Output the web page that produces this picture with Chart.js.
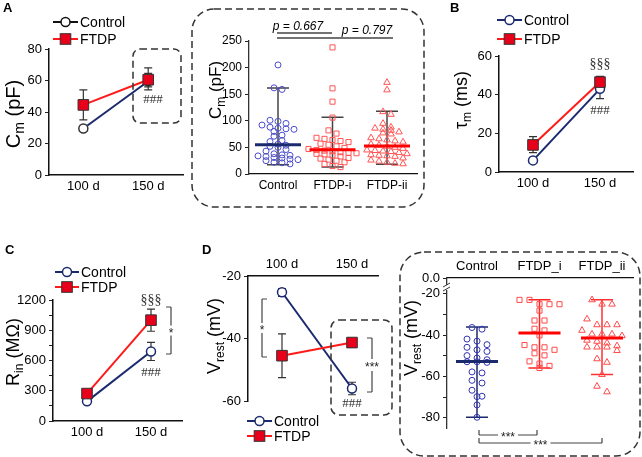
<!DOCTYPE html>
<html><head><meta charset="utf-8">
<script src="https://cdn.jsdelivr.net/npm/chart.js@4.4.1/dist/chart.umd.min.js"></script>
<style>
html,body{margin:0;padding:0;background:#fff;}
#wrap{position:relative;width:642px;height:457px;overflow:hidden;background:#fff;}
canvas{position:absolute;}
</style></head>
<body><div id="wrap">
<canvas id="cA"></canvas><canvas id="cAd"></canvas><canvas id="cB"></canvas>
<canvas id="cC"></canvas><canvas id="cD"></canvas><canvas id="cDd"></canvas>
</div>
<script>
// ---------------- DATA ----------------
const dayLabels = ['100 d', '150 d'];
// A: membrane capacitance (pF)
const cmCtrl = [29.5, 59.5], cmCtrlLo = [28, 54], cmCtrlHi = [31, 64.5];
const cmFtdp = [44.5, 60.5], cmFtdpLo = [35, 56], cmFtdpHi = [54, 68];
// B: membrane time constant (ms)
const tauCtrl = [6, 43], tauCtrlLo = [5, 38], tauCtrlHi = [7, 47];
const tauFtdp = [14, 46.5], tauFtdpLo = [10, 44], tauFtdpHi = [18.3, 49.5];
// C: input resistance (MOhm)
const rinCtrl = [195, 690], rinCtrlLo = [175, 600], rinCtrlHi = [215, 780];
const rinFtdp = [272, 1000], rinFtdpLo = [240, 890], rinFtdpHi = [300, 1110];
// D: resting potential (mV)
const vCtrl = [-25.2, -56], vCtrlLo = [-26.5, -58], vCtrlHi = [-24, -54];
const vFtdp = [-45.5, -41.3], vFtdpLo = [-52.5, -42.8], vFtdpHi = [-38.5, -40];

// A inset: Cm per cell at 150 d
const cmGroups = ['Control', 'FTDP-i', 'FTDP-ii'];
const cmCellsCtrl = [205, 162, 159, 101, 99, 95, 92, 88, 86, 85, 84, 80, 73, 71, 63, 61, 56, 54, 52, 50, 46, 43, 38, 36, 35, 34, 33, 31, 30, 28, 27, 25, 22, 21, 19];
const cmCellsFi = [238, 161, 136, 106, 82, 76, 68, 66, 64, 62, 60, 57, 55, 52, 49, 47, 45, 44, 43, 41, 40, 39, 38, 37, 35, 33, 30, 29, 27, 25, 22, 19, 15, 13];
const cmCellsFii = [172, 158, 117, 112, 95, 88, 86, 84, 82, 79, 77, 75, 68, 66, 64, 62, 60, 56, 54, 52, 50, 48, 45, 44, 43, 42, 40, 38, 36, 35, 34, 33, 30, 26, 24, 22, 20, 19];
const cmMid = [55, 45.7, 52.5], cmLow = [17.5, 13, 18.2], cmHigh = [161.7, 106.5, 117.8];

// D inset: Vrest per cell
const vGroups = ['Control', 'FTDP_i', 'FTDP_ii'];
const vCellsCtrl = [-36.3, -37.1, -41.9, -42.9, -44.6, -45.9, -47.1, -47.9, -49.9, -51.1, -51.9, -52.9, -52.9, -53.2, -57.8, -58.3, -61.9, -63.2, -66.7, -69.6, -69.8, -73.8, -79.8];
const vCellsFi = [-22.9, -22.9, -25, -25, -25, -28.1, -32.9, -32.9, -36.9, -37.7, -40.1, -44.8, -45.9, -45.9, -47.1, -48.8, -49.8, -52.7, -53.8, -54.9, -55.9];
const vCellsFii = [-22.9, -25, -25, -32.2, -35, -35, -35, -37.7, -39.5, -39.5, -39.5, -40.3, -42.5, -43, -43.8, -45.2, -45.8, -45.8, -45.8, -47.5, -51.5, -53.2, -59.1, -64.8, -67.5];
const vMid = [-52.8, -39.0, -41.4], vLow = [-79.8, -55.9, -59.1], vHigh = [-36.1, -22.9, -22.9];

// ---------------- STYLE / HELPERS ----------------
const FAM = '"Liberation Sans", Arial, sans-serif';
const NAVY = '#1b2a6e', RED = '#ff1a1a', REDF = '#e8001a';
function F(size, w){ return (w||'') + ' ' + size + 'px ' + FAM; }
function txt(ctx, s, x, y, font, color, align, base){
  ctx.save(); ctx.font = font; ctx.fillStyle = color || '#000';
  ctx.textAlign = align || 'center'; ctx.textBaseline = base || 'middle';
  ctx.fillText(s, x, y); ctx.restore();
}
function rotTitle(ctx, x, y, parts, size){
  ctx.save(); ctx.translate(x, y); ctx.rotate(-Math.PI/2);
  const ss = Math.round(size*0.68); let total = 0;
  parts.forEach(p => { ctx.font = F(p[1] ? ss : size); total += ctx.measureText(p[0]).width; });
  let cx = -total/2; ctx.fillStyle = '#000'; ctx.textBaseline = 'middle'; ctx.textAlign = 'left';
  parts.forEach(p => { ctx.font = F(p[1] ? ss : size); ctx.fillText(p[0], cx, p[1] ? size*0.32 : 0); cx += ctx.measureText(p[0]).width; });
  ctx.restore();
}
function rr(ctx, x, y, w, h, r){
  ctx.beginPath(); ctx.moveTo(x+r, y); ctx.lineTo(x+w-r, y); ctx.arcTo(x+w, y, x+w, y+r, r);
  ctx.lineTo(x+w, y+h-r); ctx.arcTo(x+w, y+h, x+w-r, y+h, r); ctx.lineTo(x+r, y+h);
  ctx.arcTo(x, y+h, x, y+h-r, r); ctx.lineTo(x, y+r); ctx.arcTo(x, y, x+r, y, r); ctx.closePath();
}
function dashBox(ctx, x1, y1, x2, y2, r){
  ctx.save(); ctx.setLineDash([7, 4]); ctx.lineWidth = 1.5; ctx.strokeStyle = '#333';
  rr(ctx, x1, y1, x2-x1, y2-y1, r); ctx.stroke(); ctx.restore();
}
function seg(ctx, pts, color, w){
  ctx.save(); ctx.strokeStyle = color; ctx.lineWidth = w; ctx.beginPath();
  for (let i = 0; i < pts.length; i += 4){ ctx.moveTo(pts[i], pts[i+1]); ctx.lineTo(pts[i+2], pts[i+3]); }
  ctx.stroke(); ctx.restore();
}
function legendItem(ctx, x1, x2, y, kind, lineColor, label){
  seg(ctx, [x1, y, x2, y], lineColor, 2);
  const cx = (x1+x2)/2;
  ctx.save();
  if (kind === 'c'){ ctx.beginPath(); ctx.arc(cx, y, 4.5, 0, Math.PI*2); ctx.fillStyle = '#fff'; ctx.fill(); ctx.lineWidth = 1.5; ctx.strokeStyle = lineColor; ctx.stroke(); }
  else { ctx.fillStyle = REDF; ctx.fillRect(cx-5.3, y-5.3, 10.6, 10.6); ctx.lineWidth = 1; ctx.strokeStyle = '#333'; ctx.strokeRect(cx-5.3, y-5.3, 10.6, 10.6); }
  ctx.restore();
  txt(ctx, label, x2+2, y+1, F(14), '#000', 'left', 'middle');
}
function vBracket(ctx, x, y1, y2, dir, label, gap){
  const ym = (y1+y2)/2;
  seg(ctx, [x, y1, x, ym-gap, x, ym+gap, x, y2, x, y1, x+dir*5, y1, x, y2, x+dir*5, y2], '#444', 1.2);
  txt(ctx, label, x, ym+3, F(12), '#222');
}
function hBracket(ctx, x1, x2, y, label, gap){
  const xm = (x1+x2)/2;
  seg(ctx, [x1, y, xm-gap, y, xm+gap, y, x2, y, x1, y, x1, y-5, x2, y, x2, y-5], '#444', 1.2);
  txt(ctx, label, xm, y+3, F(12), '#222');
}

const errPlugin = { id: 'err', beforeDatasetsDraw(chart){
  const ctx = chart.ctx, xs = chart.scales.x, ys = chart.scales.y;
  chart.data.datasets.forEach(ds => {
    if (!ds.errLo) return;
    ds.data.forEach((p, i) => {
      const x = xs.getPixelForValue(p.x), a = ys.getPixelForValue(ds.errLo[i]), b = ys.getPixelForValue(ds.errHi[i]);
      seg(ctx, [x, a, x, b, x-4, a, x+4, a, x-4, b, x+4, b], '#333', 1.2);
    });
  });
}};

function swarmOffsets(values, rowPx, stepPx, pxPerY, pxPerX){
  const order = values.map((v, i) => i).sort((a, b) => values[b]-values[a]);
  const off = new Array(values.length).fill(0);
  let row = [], start = null;
  const flush = () => { const n = row.length; row.forEach((idx, k) => { off[idx] = (k-(n-1)/2)*stepPx/pxPerX; }); row = []; };
  order.forEach(i => { if (start === null || (start-values[i])*pxPerY > rowPx){ flush(); start = values[i]; } row.push(i); });
  flush(); return off;
}

function setup(id, L, T, W, H){
  const c = document.getElementById(id);
  c.width = W; c.height = H; c.style.left = L+'px'; c.style.top = T+'px'; c.style.width = W+'px'; c.style.height = H+'px';
  return c;
}
function pad(g){
  if (g.xPos === 'top') return {left: g.x1-g.L-g.yW, right: g.L+g.W-g.x2, top: g.y1-g.T-g.xH, bottom: g.T+g.H-g.y2};
  return {left: g.x1-g.L-g.yW, right: g.L+g.W-g.x2, top: g.y1-g.T, bottom: g.T+g.H-g.y2-g.xH};
}
function axisCommon(extra){
  return Object.assign({
    grid: {display: true, drawOnChartArea: false, drawTicks: true, tickLength: 4, color: '#222', lineWidth: 1},
    border: {display: true, color: '#111', width: 1.5}
  }, extra);
}

// ---------------- LINE PANELS ----------------
function linePanel(id, g){
  const c = setup(id, g.L, g.T, g.W, g.H);
  const pxPerX = g.pxPerX;
  const xmin = -(g.p0-g.x1)/pxPerX, xmax = 1+(g.x2-g.p0-pxPerX)/pxPerX;
  return new Chart(c, {
    type: 'line',
    data: { datasets: [
      { label: 'FTDP', data: g.ftdp.map((v, i) => ({x: i, y: v})), errLo: g.ftdpLo, errHi: g.ftdpHi, order: 0,
        borderColor: RED, borderWidth: 2, pointStyle: 'rect', pointRadius: 7.5, pointBackgroundColor: REDF, pointBorderColor: '#333', pointBorderWidth: 1 },
      { label: 'Control', data: g.ctrl.map((v, i) => ({x: i, y: v})), errLo: g.ctrlLo, errHi: g.ctrlHi, order: 1,
        borderColor: NAVY, borderWidth: 2, pointStyle: 'circle', pointRadius: 4.5, pointBackgroundColor: '#fff', pointBorderColor: g.ctrlPt || NAVY, pointBorderWidth: 1.5 }
    ]},
    options: {
      responsive: false, animation: false, devicePixelRatio: 1, layout: {padding: pad(g)},
      plugins: {legend: {display: false}, tooltip: {enabled: false}},
      scales: {
        x: axisCommon({ type: 'linear', position: g.xPos || 'bottom', min: xmin, max: xmax,
          afterBuildTicks: s => { s.ticks = [{value: 0}, {value: 1}]; },
          afterFit: s => { s.height = g.xH; },
          grid: {display: true, drawOnChartArea: false, drawTicks: false},
          ticks: {autoSkip: false, maxRotation: 0, padding: 4, color: '#000', font: {family: FAM, size: 13}, callback: v => dayLabels[v]} }),
        y: axisCommon({ min: g.ymin, max: g.ymax,
          afterBuildTicks: s => { const t = []; for (let v = g.ymin; v <= g.ymax+1e-9; v += g.step) t.push({value: v}); s.ticks = t; },
          afterFit: s => { s.width = g.yW; },
          ticks: {autoSkip: false, padding: 3, color: '#000', font: {family: FAM, size: 13},
            callback: v => (Math.abs(v % g.labelEvery) < 1e-9 ? String(v) : '')} })
      }
    },
    plugins: [errPlugin, { id: 'deco', afterDraw(chart){ g.deco(chart.ctx, (x, y) => [x-g.L, y-g.T], chart); } }]
  });
}

// A
linePanel('cA', { L: 0, T: 0, W: 192, H: 210, x1: 49, x2: 190, y1: 49, y2: 175, yW: 40, xH: 22, p0: 85, pxPerX: 68,
  ymin: 0, ymax: 80, step: 20, labelEvery: 20,
  ctrl: cmCtrl, ctrlLo: cmCtrlLo, ctrlHi: cmCtrlHi, ftdp: cmFtdp, ftdpLo: cmFtdpLo, ftdpHi: cmFtdpHi, ctrlPt: '#333',
  deco(ctx, P){
    txt(ctx, 'A', 3, 8, F(13, 'bold'), '#000', 'left');
    legendItem(ctx, 53, 78, 22, 'c', '#111', 'Control');
    legendItem(ctx, 53, 78, 39, 's', RED, 'FTDP');
    rotTitle(ctx, 14, 114, [['C'], ['m', 1], [' (pF)']], 20);
    dashBox(ctx, 133, 49, 181, 123, 7);
    txt(ctx, '###', 153, 100, '13px "Liberation Serif", serif', '#333');
  }});

// B
linePanel('cB', { L: 440, T: 0, W: 202, H: 210, x1: 499, x2: 633, y1: 56, y2: 172, yW: 40, xH: 22, p0: 533, pxPerX: 67,
  ymin: 0, ymax: 60, step: 20, labelEvery: 20,
  ctrl: tauCtrl, ctrlLo: tauCtrlLo, ctrlHi: tauCtrlHi, ftdp: tauFtdp, ftdpLo: tauFtdpLo, ftdpHi: tauFtdpHi,
  deco(ctx, P){
    let p;
    p = P(450, 8); txt(ctx, 'B', p[0], p[1], F(13, 'bold'), '#000', 'left');
    p = P(497, 20); legendItem(ctx, p[0], p[0]+25, p[1], 'c', NAVY, 'Control');
    p = P(497, 39); legendItem(ctx, p[0], p[0]+25, p[1], 's', RED, 'FTDP');
    p = P(462, 100); rotTitle(ctx, p[0], p[1], [['τ'], ['m', 1], [' (ms)']], 18);
    p = P(600, 64); txt(ctx, '§§§', p[0], p[1], '14px "Liberation Serif", serif', '#333');
    p = P(600, 111); txt(ctx, '###', p[0], p[1], '13px "Liberation Serif", serif', '#333');
  }});

// C
linePanel('cC', { L: 0, T: 210, W: 200, H: 247, x1: 53, x2: 182, y1: 300, y2: 421, yW: 44, xH: 22, p0: 87, pxPerX: 64,
  ymin: 0, ymax: 1200, step: 150, labelEvery: 300,
  ctrl: rinCtrl, ctrlLo: rinCtrlLo, ctrlHi: rinCtrlHi, ftdp: rinFtdp, ftdpLo: rinFtdpLo, ftdpHi: rinFtdpHi,
  deco(ctx, P){
    let p;
    p = P(5, 250); txt(ctx, 'C', p[0], p[1], F(13, 'bold'), '#000', 'left');
    p = P(55, 272); legendItem(ctx, p[0], p[0]+24, p[1], 'c', NAVY, 'Control');
    p = P(55, 287); legendItem(ctx, p[0], p[0]+24, p[1], 's', RED, 'FTDP');
    p = P(14, 352); rotTitle(ctx, p[0], p[1], [['R'], ['in', 1], [' (MΩ)']], 18);
    p = P(151, 300); txt(ctx, '§§§', p[0], p[1], '14px "Liberation Serif", serif', '#333');
    p = P(151, 373); txt(ctx, '###', p[0], p[1], '13px "Liberation Serif", serif', '#333');
    p = P(171, 307); const q = P(171, 354); vBracket(ctx, p[0], p[1], q[1], -1, '*', 5);
  }});

// D
linePanel('cD', { L: 200, T: 210, W: 195, H: 247, x1: 248, x2: 378, y1: 276, y2: 401, yW: 36, xH: 20, xPos: 'top', p0: 282, pxPerX: 70,
  ymin: -60, ymax: -20, step: 20, labelEvery: 20,
  ctrl: vCtrl, ctrlLo: vCtrlLo, ctrlHi: vCtrlHi, ftdp: vFtdp, ftdpLo: vFtdpLo, ftdpHi: vFtdpHi,
  deco(ctx, P){
    let p, q;
    p = P(202, 250); txt(ctx, 'D', p[0], p[1], F(13, 'bold'), '#000', 'left');
    p = P(247, 421); legendItem(ctx, p[0], p[0]+25, p[1], 'c', NAVY, 'Control');
    p = P(247, 436); legendItem(ctx, p[0], p[0]+25, p[1], 's', RED, 'FTDP');
    p = P(215, 336); rotTitle(ctx, p[0], p[1], [['V'], ['rest', 1], [' (mV)']], 18);
    p = P(331, 320); q = P(392, 415); dashBox(ctx, p[0], p[1], q[0], q[1], 8);
    p = P(352, 404); txt(ctx, '###', p[0], p[1], '13px "Liberation Serif", serif', '#333');
    p = P(262, 299); q = P(262, 357); vBracket(ctx, p[0], p[1], q[1], 1, '*', 5);
    p = P(372, 338); q = P(372, 392); vBracket(ctx, p[0], p[1], q[1], -1, '***', 6);
  }});

// ---------------- DOT PANELS ----------------
function dotPanel(id, g){
  const c = setup(id, g.L, g.T, g.W, g.H);
  const xmin = 1-(g.p0-g.x1)/g.pxPerX, xmax = xmin+(g.x2-g.x1)/g.pxPerX;
  const pxPerY = (g.y2-g.y1)/(g.ymax-g.ymin);
  const mk = (vals, pos) => { const o = swarmOffsets(vals, g.rowPx, g.stepPx, pxPerY, g.pxPerX); return vals.map((v, i) => ({x: pos+o[i], y: v})); };
  const sets = g.groups.map((vals, k) => ({
    label: g.names[k], data: mk(vals, k+1), showLine: false,
    pointStyle: ['circle', 'rect', 'triangle'][k], pointRadius: [3, 3.6, 3.8][k],
    pointBackgroundColor: 'rgba(255,255,255,0)', pointBorderColor: k === 0 ? g.ptCtrl : g.ptRed, pointBorderWidth: 1
  }));
  return new Chart(c, {
    type: 'scatter',
    data: { datasets: sets },
    options: {
      responsive: false, animation: false, devicePixelRatio: 1, layout: {padding: pad(g)},
      plugins: {legend: {display: false}, tooltip: {enabled: false}},
      scales: {
        x: axisCommon({ type: 'linear', position: g.xPos || 'bottom', min: xmin, max: xmax,
          afterBuildTicks: s => { s.ticks = [{value: 1}, {value: 2}, {value: 3}]; },
          afterFit: s => { s.height = g.xH; },
          grid: {display: true, drawOnChartArea: false, drawTicks: false},
          border: {display: true, color: '#111', width: 1.3},
          ticks: {autoSkip: false, maxRotation: 0, padding: 4, color: '#000', font: {family: FAM, size: g.fs}, callback: v => g.names[v-1]} }),
        y: axisCommon({ min: g.ymin, max: g.ymax,
          afterBuildTicks: s => { s.ticks = g.ticks.map(v => ({value: v})); },
          afterFit: s => { s.width = g.yW; },
          border: {display: true, color: '#333', width: 1.3},
          ticks: {autoSkip: false, padding: 3, color: '#000', font: {family: FAM, size: g.fs}, callback: g.tickCb} })
      }
    },
    plugins: [{ id: 'summary', beforeDatasetsDraw(chart){
      const ctx = chart.ctx, xs = chart.scales.x, ys = chart.scales.y;
      for (let k = 0; k < 3; k++){
        const x = xs.getPixelForValue(k+1), a = ys.getPixelForValue(g.low[k]), b = ys.getPixelForValue(g.high[k]);
        const wc = g.whiskerColors[k];
        seg(ctx, [x, a, x, b, x-11, a, x+11, a, x-11, b, x+11, b], wc, 1.5);
      }
    }, afterDatasetsDraw(chart){
      const ctx = chart.ctx, xs = chart.scales.x, ys = chart.scales.y;
      for (let k = 0; k < 3; k++){
        const x = xs.getPixelForValue(k+1), m = ys.getPixelForValue(g.mid[k]);
        seg(ctx, [x-g.midHalf, m, x+g.midHalf, m], k === 0 ? NAVY : '#ff0000', 3);
      }
    }}, { id: 'deco', afterDraw(chart){ g.deco(chart.ctx, (x, y) => [x-g.L, y-g.T], chart); } }]
  });
}

// A inset
dotPanel('cAd', { L: 190, T: 0, W: 250, H: 210, x1: 249, x2: 417, y1: 41, y2: 174, yW: 40, xH: 22, p0: 278, pxPerX: 54.5,
  ymin: 0, ymax: 250, ticks: [0, 50, 100, 150, 200, 250], tickCb: v => String(v), fs: 12,
  groups: [cmCellsCtrl, cmCellsFi, cmCellsFii], names: cmGroups, mid: cmMid, low: cmLow, high: cmHigh,
  rowPx: 4.3, stepPx: 8, ptCtrl: '#4b4bd0', ptRed: '#ff5555', midHalf: 23, whiskerColors: ['#444', '#444', '#444'],
  deco(ctx, P){
    let p, q;
    p = P(192, 9); q = P(424, 207); dashBox(ctx, p[0], p[1], q[0], q[1], 22);
    p = P(216, 90); rotTitle(ctx, p[0], p[1], [['C'], ['m', 1], [' (pF)']], 17);
    p = P(298, 27); txt(ctx, 'p = 0.667', p[0], p[1], 'italic 12px ' + FAM, '#000');
    p = P(367, 31); txt(ctx, 'p = 0.797', p[0], p[1], 'italic 12px ' + FAM, '#000');
    p = P(277, 33); q = P(332, 38); seg(ctx, [p[0], p[1], q[0], p[1]], '#444', 1.3);
    p = P(277, 38); q = P(393, 38); seg(ctx, [p[0], p[1], q[0], p[1]], '#444', 1.3);
  }});

// D inset
const vTop = -12.3;
dotPanel('cDd', { L: 395, T: 210, W: 247, H: 247, x1: 447, x2: 633, y1: 278, y2: 428, yW: 38, xH: 20, xPos: 'top', p0: 477, pxPerX: 62.5,
  ymin: -85, ymax: vTop, ticks: [-80, -70, -60, -50, -40, -30, -20, vTop],
  tickCb: v => (v === vTop ? '0.0' : (v % 20 === 0 ? String(v) : '')), fs: 13,
  groups: [vCellsCtrl, vCellsFi, vCellsFii], names: vGroups, mid: vMid, low: vLow, high: vHigh,
  rowPx: 6, stepPx: 10, ptCtrl: '#3434b4', ptRed: '#ff4a4a', midHalf: 21, whiskerColors: [NAVY, '#ff2020', '#ff3030'],
  deco(ctx, P, chart){
    let p, q;
    p = P(400, 252); q = P(640, 456); dashBox(ctx, p[0], p[1], q[0], q[1], 24);
    p = P(412, 338); rotTitle(ctx, p[0], p[1], [['V'], ['rest', 1], [' (mV)']], 18);
    const ax = chart.chartArea.left; const yb = 287 - 210;
    ctx.save(); ctx.fillStyle = '#fff'; ctx.fillRect(ax-2, yb-2, 4, 5); ctx.restore();
    seg(ctx, [ax-4, yb, ax+3, yb-4, ax-4, yb+4, ax+3, yb], '#333', 1);
    p = P(479, 435); q = P(537, 435); hBracket(ctx, p[0], q[0], p[1], '***', 10);
    p = P(479, 443); q = P(602, 443); hBracket(ctx, p[0], q[0], p[1], '***', 10);
  }});
</script>
</body></html>
